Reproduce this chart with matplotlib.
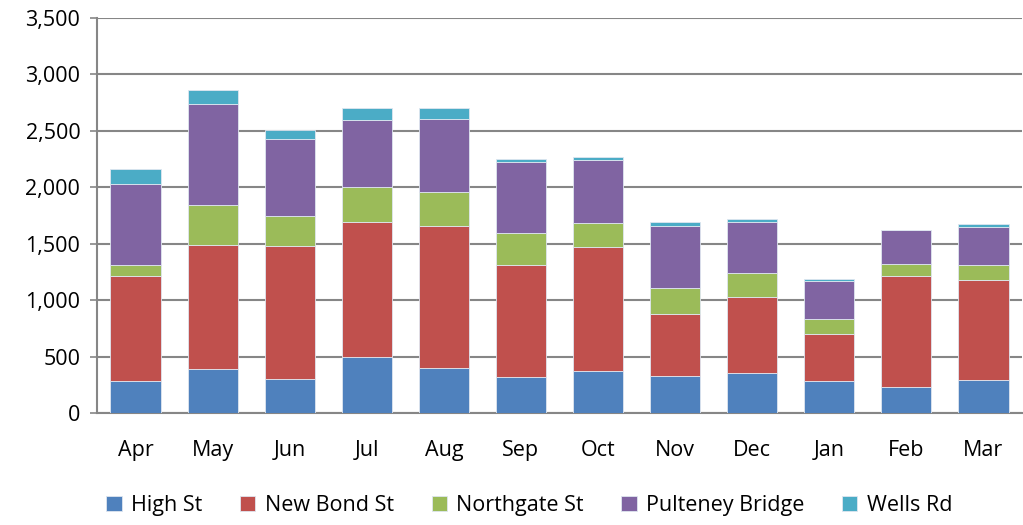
import matplotlib.pyplot as plt
import numpy as np
from matplotlib.ticker import FuncFormatter

# data
months = ['Apr', 'May', 'Jun', 'Jul', 'Aug', 'Sep', 'Oct', 'Nov', 'Dec', 'Jan', 'Feb', 'Mar']
high_st = [283, 389, 301, 496, 398, 319, 377, 333, 357, 283, 230, 292]
new_bond_st = [935, 1100, 1182, 1194, 1262, 991, 1095, 546, 675, 416, 988, 890]
northgate_st = [94, 354, 266, 315, 298, 286, 212, 227, 210, 136, 103, 133]
pulteney_bridge = [720, 897, 676, 593, 649, 631, 561, 554, 448, 339, 299, 331]
wells_rd = [133, 124, 79, 104, 92, 21, 26, 33, 32, 17, 5, 27]

series = [
    ('High St', high_st, '#4F81BD'),
    ('New Bond St', new_bond_st, '#C0504D'),
    ('Northgate St', northgate_st, '#9BBB59'),
    ('Pulteney Bridge', pulteney_bridge, '#8064A2'),
    ('Wells Rd', wells_rd, '#4BACC6'),
]

plt.rcParams['font.family'] = ['Open Sans', 'DejaVu Sans']

fig = plt.figure(figsize=(10.23, 5.25), dpi=100)
ax = fig.add_axes([97 / 1023, 1 - 413.3 / 525, (1022 - 97) / 1023, (413.3 - 17.8) / 525])

x = np.arange(len(months))
bottom = np.zeros(len(months))
for name, vals, color in series:
    ax.bar(x, vals, width=0.65, bottom=bottom, color=color, label=name,
           edgecolor='#dfe6f0', linewidth=0.6, zorder=3)
    bottom += np.array(vals)

ax.set_xlim(-0.5, len(months) - 0.5)
ax.set_ylim(0, 3500)
ax.set_yticks(np.arange(0, 3501, 500))
ax.yaxis.set_major_formatter(FuncFormatter(lambda v, p: f'{int(v):,}'))
ax.set_xticks(x)
ax.set_xticklabels(months)

ax.grid(True, axis='y', color='#868686', linewidth=1.5, zorder=0)
ax.set_axisbelow(True)
for s in ['top', 'right']:
    ax.spines[s].set_visible(False)
for s in ['left', 'bottom']:
    ax.spines[s].set_color('#868686')
    ax.spines[s].set_linewidth(1.5)

ax.tick_params(axis='y', labelsize=15.5, length=5, color='#868686', width=1.2, pad=7)
ax.tick_params(axis='x', labelsize=15.5, length=0, pad=19)

ax.legend(loc='center', bbox_to_anchor=(0.5 - 30 / 925, -0.233), ncol=5, frameon=False,
          fontsize=15.5, handlelength=0.7, handleheight=0.7, handletextpad=0.45,
          columnspacing=1.75)

fig.savefig('out.png', dpi=100)
